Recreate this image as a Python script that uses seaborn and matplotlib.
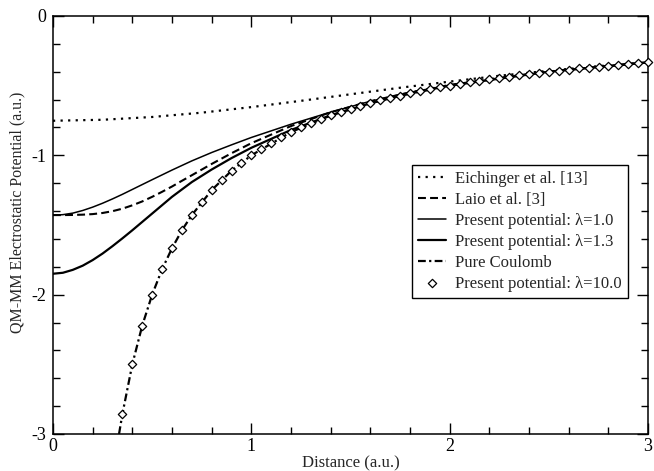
import pandas as pd
import seaborn as sns
import matplotlib.pyplot as plt

# values
eich_x = [0.0, 0.25, 0.5, 0.75, 1.0, 1.25, 1.5, 1.75, 2.0, 2.25, 2.5, 2.75, 3.0]
eich_y = [-0.752, -0.745, -0.725, -0.694, -0.654, -0.609, -0.562, -0.515, -0.471,
          -0.429, -0.393, -0.360, -0.332]

laio_x = [0.0, 0.05, 0.1, 0.15, 0.2, 0.25, 0.3, 0.35, 0.4, 0.45, 0.5, 0.55, 0.6,
          0.65, 0.7, 0.8, 0.9, 1.0, 1.2, 1.4, 1.6, 1.8, 2.0, 2.5, 3.0]
laio_y = [-1.429, -1.429, -1.428, -1.426, -1.422, -1.414, -1.401, -1.383, -1.359,
          -1.331, -1.298, -1.262, -1.224, -1.183, -1.143, -1.062, -0.985, -0.913,
          -0.790, -0.691, -0.612, -0.548, -0.495, -0.398, -0.333]

lam10_x = [0.0, 0.05, 0.1, 0.15, 0.2, 0.25, 0.3, 0.35, 0.4, 0.45, 0.5, 0.6, 0.7,
           0.8, 0.9, 1.0, 1.2, 1.4, 1.6, 1.8, 2.0, 2.5, 3.0]
lam10_y = [-1.430, -1.426, -1.415, -1.396, -1.372, -1.344, -1.313, -1.280, -1.245,
           -1.210, -1.175, -1.106, -1.040, -0.980, -0.925, -0.872, -0.777, -0.690,
           -0.612, -0.548, -0.496, -0.399, -0.333]

lam13_x = [0.0, 0.05, 0.1, 0.15, 0.2, 0.25, 0.3, 0.35, 0.4, 0.45, 0.5, 0.6, 0.7,
           0.8, 0.9, 1.0, 1.2, 1.4, 1.6, 1.8, 2.0, 2.5, 3.0]
lam13_y = [-1.850, -1.843, -1.822, -1.792, -1.752, -1.705, -1.652, -1.596, -1.538,
           -1.478, -1.418, -1.298, -1.192, -1.102, -1.020, -0.946, -0.818, -0.713,
           -0.627, -0.556, -0.500, -0.400, -0.333]

coul_x = [0.333, 0.35, 0.4, 0.45, 0.5, 0.55, 0.6, 0.65, 0.7, 0.8, 0.9, 1.0, 1.2,
          1.4, 1.6, 1.8, 2.0, 2.25, 2.5, 2.75, 3.0]
coul_y = [-3.0, -2.857, -2.5, -2.222, -2.0, -1.818, -1.667, -1.538, -1.429, -1.25,
          -1.111, -1.0, -0.833, -0.714, -0.625, -0.556, -0.5, -0.444, -0.4, -0.364,
          -0.333]

dia_x = [0.35, 0.40, 0.45, 0.50, 0.55, 0.60, 0.65, 0.70, 0.75, 0.80, 0.85, 0.90,
         0.95, 1.00, 1.05, 1.10, 1.15, 1.20, 1.25, 1.30, 1.35, 1.40, 1.45, 1.50,
         1.55, 1.60, 1.65, 1.70, 1.75, 1.80, 1.85, 1.90, 1.95, 2.00, 2.05, 2.10,
         2.15, 2.20, 2.25, 2.30, 2.35, 2.40, 2.45, 2.50, 2.55, 2.60, 2.65, 2.70,
         2.75, 2.80, 2.85, 2.90, 2.95, 3.00]
dia_y = [-2.857, -2.500, -2.222, -2.000, -1.818, -1.667, -1.538, -1.429, -1.333,
         -1.250, -1.176, -1.111, -1.053, -1.000, -0.952, -0.909, -0.870, -0.833,
         -0.800, -0.769, -0.741, -0.714, -0.690, -0.667, -0.645, -0.625, -0.606,
         -0.588, -0.571, -0.556, -0.541, -0.526, -0.513, -0.500, -0.488, -0.476,
         -0.465, -0.455, -0.444, -0.435, -0.426, -0.417, -0.408, -0.400, -0.392,
         -0.385, -0.377, -0.370, -0.364, -0.357, -0.351, -0.345, -0.339, -0.333]

sns.set_style("ticks")
plt.rcParams['font.family'] = ['Liberation Serif', 'DejaVu Serif']
plt.rcParams['axes.unicode_minus'] = False

fig = plt.figure(figsize=(6.54, 4.71), dpi=100)
ax = fig.add_axes([0.081, 0.0786, 0.910, 0.8875])

curves = [
    (eich_x, eich_y, 'Eichinger et al. [13]', (0, (1, 2.4)), 1.6),
    (laio_x, laio_y, 'Laio et al. [3]', (0, (3.8, 2.0)), 1.5),
    (lam10_x, lam10_y, 'Present potential: λ=1.0', '-', 1.1),
    (lam13_x, lam13_y, 'Present potential: λ=1.3', '-', 1.6),
    (coul_x, coul_y, 'Pure Coulomb', (0, (3.5, 1.5, 1, 1.5)), 1.6),
]
for xs, ys, lab, ls, lw in curves:
    df = pd.DataFrame({'x': xs, 'y': ys})
    sns.lineplot(data=df, x='x', y='y', ax=ax, color='black', linestyle=ls,
                 linewidth=lw, label=lab, sort=False, estimator=None)

dia = pd.DataFrame({'x': dia_x, 'y': dia_y})
sns.scatterplot(data=dia, x='x', y='y', ax=ax, marker='D', s=18, color='white',
                edgecolor='black', linewidth=0.9, label='Present potential: λ=10.0',
                zorder=5, clip_on=False)

ax.set_xlim(0, 3)
ax.set_ylim(-3, 0)
ax.set_xticks([0, 1, 2, 3])
ax.set_yticks([-3, -2, -1, 0])
ax.set_xticks([i * 0.2 for i in range(16)], minor=True)
ax.set_yticks([-3 + i * 0.2 for i in range(16)], minor=True)
ax.tick_params(which='both', direction='in', top=True, right=True, colors='black',
               labelsize=13, width=1.0)
ax.tick_params(which='major', length=8)
ax.tick_params(axis='x', which='major', pad=3)
ax.tick_params(axis='y', which='major', pad=5)
ax.tick_params(which='minor', length=5)
for sp in ax.spines.values():
    sp.set_linewidth(1.1)
    sp.set_color('black')

ax.set_xlabel('Distance (a.u.)', fontsize=12, labelpad=0)
ax.set_ylabel('QM-MM Electrostatic Potential (a.u.)', fontsize=11.5)
ax.yaxis.set_label_coords(-0.046, 0.531)

leg = ax.legend(loc='upper left', bbox_to_anchor=(0.603, 0.6435), borderaxespad=0,
                fontsize=12, frameon=True, fancybox=False, framealpha=1,
                edgecolor='black', handlelength=1.7, handletextpad=0.55,
                labelspacing=0.3, borderpad=0.35)
leg.get_frame().set_linewidth(1.0)

plt.savefig('out.png', dpi=100)
plt.close()
